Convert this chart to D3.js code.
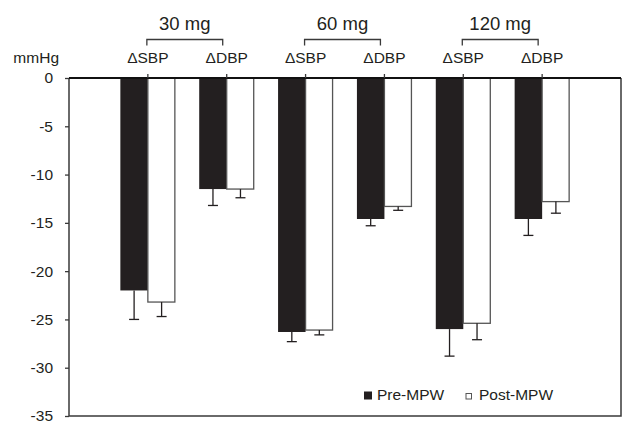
<!DOCTYPE html>
<html>
<head>
<meta charset="utf-8">
<script src="https://cdn.jsdelivr.net/npm/d3@7"></script>
<style>
  body { margin: 0; background: #fff; }
  svg text { font-family: "Liberation Sans", Arial, sans-serif; fill: #231f20; }
</style>
</head>
<body>
<div id="chart"></div>
<script>
// data (mmHg change)
const doses = ["30 mg", "60 mg", "120 mg"];
const measures = ["\u0394SBP", "\u0394DBP"];
const preMPW = [-22.0, -11.5, -26.3, -14.6, -26.0, -14.6];
const preErr = [3.0, 1.7, 1.0, 0.7, 2.8, 1.7];
const postMPW = [-23.2, -11.5, -26.1, -13.3, -25.4, -12.8];
const postErr = [1.5, 0.9, 0.5, 0.4, 1.7, 1.2];
const yTicks = [0, -5, -10, -15, -20, -25, -30, -35];

const width = 627, height = 423;
const plotLeft = 69, plotRight = 621, plotTop = 78, plotBottom = 416;
const barW = 27.5, ink = "#231f20";

const svg = d3.select("#chart").append("svg")
    .attr("width", width)
    .attr("height", height);

// positions 1..6 on a 0..7 range, so groups sit evenly inside the box
const x = d3.scaleLinear().domain([0, 7]).range([plotLeft, plotRight]);
const y = d3.scaleLinear().domain([-35, 0]).range([plotBottom, plotTop]);

const rows = preMPW.map((v, i) => ({
  pos: i + 1, pre: v, preErr: preErr[i], post: postMPW[i], postErr: postErr[i],
  label: measures[i % 2]
}));

// frame: left axis, right and bottom lines
svg.append("path")
    .attr("d", `M${plotLeft},${plotTop}V${plotBottom}H${plotRight}V${plotTop}`)
    .attr("fill", "none")
    .attr("stroke", "#3a3a3a")
    .attr("stroke-width", 1.5);

// y axis ticks and labels (plain hyphen minus like the original)
const yAxis = svg.append("g")
    .attr("transform", `translate(${plotLeft},0)`)
    .call(d3.axisLeft(y).tickValues(yTicks).tickSize(4).tickPadding(12)
      .tickFormat(d => String(d)));
yAxis.select(".domain").remove();
yAxis.selectAll("line").attr("stroke", "#3a3a3a").attr("stroke-width", 1.3);
yAxis.selectAll("text")
    .style("font-size", "15.5px")
    .attr("fill", ink);

svg.append("text")
    .attr("x", 59).attr("y", 63)
    .attr("text-anchor", "end")
    .style("font-size", "15.5px")
    .text("mmHg");

// pre bars (black)
svg.selectAll(".pre").data(rows).join("rect")
    .attr("class", "pre")
    .attr("x", d => x(d.pos) - barW)
    .attr("y", y(0))
    .attr("width", barW)
    .attr("height", d => y(d.pre) - y(0))
    .attr("fill", ink);

// post bars (white)
svg.selectAll(".post").data(rows).join("rect")
    .attr("class", "post")
    .attr("x", d => x(d.pos))
    .attr("y", y(0))
    .attr("width", barW - 0.5)
    .attr("height", d => y(d.post) - y(0))
    .attr("fill", "#fff")
    .attr("stroke", "#555")
    .attr("stroke-width", 1.3);

// error bars
const errs = [];
rows.forEach(d => {
  errs.push({ cx: x(d.pos) - barW / 2, v: d.pre, e: d.preErr });
  errs.push({ cx: x(d.pos) + barW / 2, v: d.post, e: d.postErr });
});
const eg = svg.selectAll(".err").data(errs).join("g")
    .attr("class", "err")
    .attr("stroke", ink)
    .attr("stroke-width", 1.3);
eg.append("line")
    .attr("x1", d => d.cx).attr("x2", d => d.cx)
    .attr("y1", d => y(d.v)).attr("y2", d => y(d.v - d.e));
eg.append("line")
    .attr("x1", d => d.cx - 5).attr("x2", d => d.cx + 5)
    .attr("y1", d => y(d.v - d.e)).attr("y2", d => y(d.v - d.e));

// zero line on top
svg.append("line")
    .attr("x1", plotLeft).attr("x2", plotRight)
    .attr("y1", y(0)).attr("y2", y(0))
    .attr("stroke", "#111")
    .attr("stroke-width", 2.2);

// small upward ticks at each category
svg.selectAll(".xtick").data(rows).join("line")
    .attr("class", "xtick")
    .attr("x1", d => x(d.pos)).attr("x2", d => x(d.pos))
    .attr("y1", y(0) - 4).attr("y2", y(0))
    .attr("stroke", "#3a3a3a")
    .attr("stroke-width", 1.3);

// category labels
svg.selectAll(".cat").data(rows).join("text")
    .attr("class", "cat")
    .attr("x", d => x(d.pos))
    .attr("y", 63)
    .attr("text-anchor", "middle")
    .style("font-size", "15.5px")
    .text(d => d.label);

// dose brackets and labels
const groups = doses.map((d, i) => ({ dose: d, a: x(2 * i + 1) - 1, b: x(2 * i + 2) - 4 }));
svg.selectAll(".bracket").data(groups).join("path")
    .attr("class", "bracket")
    .attr("d", g => `M${g.a},45.5V39.5H${g.b}V45.5`)
    .attr("fill", "none")
    .attr("stroke", "#3a3a3a")
    .attr("stroke-width", 1.3);
svg.selectAll(".dose").data(groups).join("text")
    .attr("class", "dose")
    .attr("x", g => (g.a + g.b) / 2)
    .attr("y", 30)
    .attr("text-anchor", "middle")
    .style("font-size", "18.5px")
    .text(g => g.dose);

// legend
const lg = svg.append("g");
lg.append("rect").attr("x", 364).attr("y", 391.5).attr("width", 8).attr("height", 8).attr("fill", ink);
lg.append("text").attr("x", 377).attr("y", 400).style("font-size", "15.5px").text("Pre-MPW");
lg.append("rect").attr("x", 466).attr("y", 393.5).attr("width", 5.5).attr("height", 5.5)
    .attr("fill", "#fff").attr("stroke", "#555").attr("stroke-width", 1);
lg.append("text").attr("x", 479).attr("y", 400).style("font-size", "15.5px").text("Post-MPW");
</script>
</body>
</html>
